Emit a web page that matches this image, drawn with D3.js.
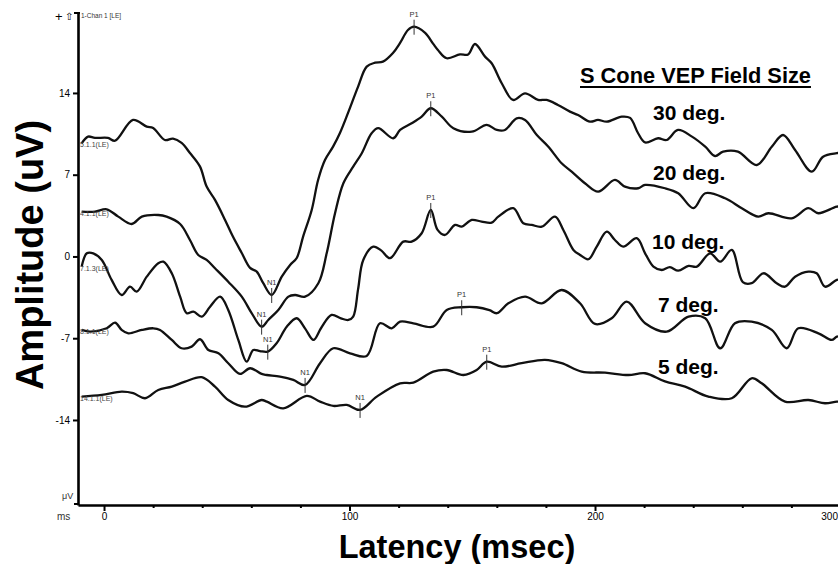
<!DOCTYPE html>
<html>
<head>
<meta charset="utf-8">
<script src="https://cdn.jsdelivr.net/npm/d3@7"></script>
<style>
  body { margin: 0; background: #fff; }
  svg { display: block; font-family: "Liberation Sans", Arial, sans-serif; }
</style>
</head>
<body>
<div id="chart"></div>
<script>
// field sizes, top to bottom
var fieldSizes = ["30 deg.", "20 deg.", "10 deg.", "7 deg.", "5 deg."];
var traceIds = ["5.1.1(LE)", "4.1.1(LE)", "7.1.3(LE)", "8.1.1(LE)", "14.1.1(LE)"];

// [latency ms, amplitude uV]
var trace30 = [[-9.1,9.69],[-6.5,10.26],[-3.7,10.15],[1.6,10.15],[4.5,9.91],[11.8,11.69],[17.4,11.11],[20.0,11.0],
  [24.8,9.97],[28.1,10.09],[31.6,9.72],[35.0,8.86],[39.1,7.69],[41.8,5.98],[45.2,4.84],[49.3,3.13],[52.5,1.70],
  [56.1,0.30],[59.5,-0.98],[62.2,-1.30],[64.8,-2.27],[68.3,-3.30],[72.4,-1.73],[75.8,-0.73],[78.5,-0.13],[81.1,1.70],
  [84.6,3.98],[87.2,6.55],[90.0,8.26],[93.3,9.40],[96.1,10.57],[99.4,12.29],[103.5,14.54],[107.0,16.25],[110.4,16.59],
  [113.6,16.68],[117.7,17.42],[120.6,18.28],[123.8,19.39],[126.3,19.67],[130.8,19.14],[134.1,18.2],[136.0,17.68],
  [139.6,16.97],[145.0,17.3],[148.3,17.3],[151.1,18.19],[155.2,17.11],[157.9,16.54],[162.0,14.83],[166.6,13.40],
  [171.5,13.97],[176.8,13.40],[180.3,13.40],[184.9,12.97],[189.8,12.40],[193.1,12.11],[198.0,11.54],[201.2,11.69],
  [204.8,11.54],[210.9,11.97],[214.3,11.86],[217.5,10.57],[220.4,9.76],[225.7,10.12],[229.2,9.97],[233.8,10.83],
  [239.5,10.26],[244.9,9.40],[248.9,8.60],[252.2,8.97],[258.2,8.97],[265.9,7.83],[272.0,9.40],[276.6,10.40],
  [281.5,9.12],[288.3,7.26],[292.9,8.54],[298.5,8.84],[302,8.9]];

var trace20 = [[-9.1,3.84],[-3.7,3.84],[1.1,4.04],[5.8,3.41],[11.3,2.78],[15.4,3.41],[22.1,3.55],[25.5,3.41],
  [31.0,2.78],[35.0,1.41],[38.4,0.13],[41.8,-0.30],[45.2,-1.01],[50.6,-2.16],[56.1,-3.44],[60.2,-4.87],[64.2,-6.01],
  [66.9,-5.44],[71.0,-4.58],[75.1,-3.44],[77.8,-3.30],[81.9,-3.44],[87.3,-2.29],[90.7,0.27],[94.1,3.70],[97.5,6.27],
  [101.5,7.69],[105.0,8.84],[109.0,10.55],[111.7,10.98],[117.8,10.12],[120.6,10.83],[125.3,11.40],[129.4,11.97],
  [133.1,12.69],[137.6,11.97],[142.3,10.98],[149.8,10.68],[155.9,11.26],[160.0,10.83],[163.3,10.83],[168.1,11.83],
  [171.5,11.69],[176.3,10.40],[181.0,9.40],[186.4,7.98],[190.5,7.26],[195.9,6.27],[201.3,5.55],[208.1,6.55],
  [212.2,5.98],[217.6,5.84],[220.4,6.12],[228.5,5.84],[233.9,5.41],[240.1,4.13],[244.9,5.41],[253.0,4.98],
  [259.8,4.13],[266.5,3.41],[270.6,3.70],[280.1,3.27],[286.9,4.13],[291.0,3.70],[298.5,4.26],[302,4.3]];

var trace10 = [[-9.1,-0.87],[-7.0,0.27],[-4.4,0.27],[-0.9,-0.30],[3.1,-2.01],[7.2,-3.30],[10.6,-2.59],[13.3,-3.01],
  [17.4,-1.73],[22.1,-0.58],[24.2,-0.45],[27.6,-1.44],[31.0,-3.44],[33.7,-4.86],[36.4,-4.73],[39.8,-5.15],[43.2,-4.30],
  [47.3,-3.44],[50.6,-4.58],[54.7,-7.15],[58.1,-9.01],[60.8,-8.01],[63.5,-8.1],[66.7,-8.15],[70.3,-7.43],[74.5,-6.0],
  [78.5,-5.29],[82.0,-6.2],[85.3,-7.15],[88.5,-6.1],[92.7,-5.01],[96.5,-5.3],[99.5,-5.44],[101.5,-5.15],[103.5,-2.8],
  [105.6,-0.30],[109.7,0.84],[113.0,0.5],[116.5,-0.15],[121.9,1.27],[125.3,1.27],[129.4,1.99],[133.1,3.98],
  [135.8,2.3],[138.9,1.84],[143.0,2.70],[145.7,2.55],[149.8,3.13],[153.8,2.98],[157.9,2.89],[160.6,3.41],
  [166.7,4.13],[170.8,2.84],[174.2,2.70],[178.3,2.55],[183.7,3.41],[187.1,2.27],[191.2,0.56],[193.9,0.13],
  [197.3,-0.24],[200.7,0.84],[204.8,2.12],[208.1,1.41],[211.5,0.84],[217.0,1.56],[220.4,0.27],[223.8,-0.87],
  [227.2,-1.16],[230.5,-0.92],[233.9,-1.22],[238.1,-0.81],[241.5,-0.87],[246.9,0.27],[251.0,-0.45],[255.7,0.56],
  [260.2,-2.2],[263.8,-2.29],[268.6,-1.44],[274.0,-2.29],[277.4,-2.59],[281.5,-1.73],[286.9,-1.30],[290.3,-1.44],
  [293.7,-2.59],[298.5,-2.01],[302,-1.9]];

var trace7 = [[-9.1,-6.29],[-5.7,-6.44],[1.1,-6.15],[4.5,-5.67],[7.2,-6.29],[9.9,-6.58],[15.4,-6.29],[20.1,-6.15],
  [22.8,-6.29],[27.6,-7.15],[31.6,-7.86],[35.7,-7.72],[39.1,-7.09],[42.5,-8.01],[46.6,-8.29],[50.6,-9.14],[55.4,-10.06],
  [59.5,-9.57],[64.2,-10.06],[66.3,-10.15],[71.7,-10.29],[77.1,-10.57],[81.9,-11.0],[88.0,-9.14],[93.4,-7.86],
  [100.2,-8.29],[107.0,-8.52],[112.4,-5.72],[117.2,-6.15],[120.6,-5.58],[126.0,-5.72],[134.1,-6.01],[139.6,-4.58],
  [145.7,-4.35],[151.8,-4.35],[157.0,-4.6],[160.0,-4.86],[164.7,-4.01],[171.5,-3.44],[178.3,-4.01],[186.4,-2.87],
  [193.9,-4.01],[200.0,-5.78],[206.8,-5.29],[212.9,-3.87],[220.4,-5.72],[229.2,-6.44],[238.1,-5.15],[244.9,-5.29],
  [251.0,-7.86],[257.0,-5.72],[263.8,-5.58],[272.0,-6.29],[278.1,-7.86],[282.8,-6.15],[291.0,-6.58],[296.4,-7.15],
  [298.5,-6.87],[302,-6.8]];

var trace5 = [[-9.1,-12.0],[-0.9,-11.86],[7.2,-11.58],[11.9,-11.71],[16.7,-12.14],[22.1,-11.43],[27.6,-11.15],
  [33.0,-10.72],[39.8,-10.34],[45.2,-11.15],[50.6,-12.29],[57.4,-12.86],[64.2,-12.29],[66.3,-12.43],[73.0,-13.0],
  [82.6,-11.94],[88.0,-12.43],[93.4,-12.80],[98.9,-12.71],[104.3,-13.14],[111.1,-12.0],[120.6,-10.86],[126.0,-10.80],
  [134.1,-9.86],[139.6,-9.72],[146.4,-10.15],[151.8,-9.72],[155.9,-9.01],[162.0,-9.43],[170.1,-9.14],[179.6,-8.86],
  [186.4,-9.14],[194.6,-9.86],[204.1,-9.95],[213.6,-10.15],[220.4,-10.0],[228.5,-10.7],[236.7,-11.15],[246.2,-12.0],
  [255.7,-12.14],[263.8,-10.43],[267.9,-10.86],[277.4,-12.43],[286.9,-12.29],[293.7,-12.57],[298.5,-12.43],[302,-12.4]];

var traces = [trace30, trace20, trace10, trace7, trace5];

// component latencies (ms) per trace
var n1Latency = [68.3, 64.2, 66.7, 81.9, 104.3];
var p1Latency = [126.3, 133.1, 133.1, 145.7, 155.9];

var yTicks = [14, 7, 0, -7, -14];
var xTicks = [0, 100, 200, 300];

var WIDTH = 838, HEIGHT = 564;

var x = d3.scaleLinear().domain([-10.6, 300]).range([78, 840.5]);
var y = d3.scaleLinear().domain([-21.28, 20.93]).range([505, 12]);

var svg = d3.select("#chart").append("svg")
    .attr("width", WIDTH)
    .attr("height", HEIGHT);

// axes
var yAxis = d3.axisLeft(y).tickValues(yTicks).tickSize(5).tickSizeOuter(0).tickPadding(3)
    .tickFormat(function (d) { return String(d); });
var gy = svg.append("g").attr("transform", "translate(78,0)").call(yAxis);
gy.select(".domain").attr("stroke-width", 2.6).attr("stroke", "#000");
gy.selectAll(".tick line").attr("stroke-width", 2);
gy.selectAll(".tick text").attr("font-size", 10).attr("font-family", "Liberation Sans, Arial, sans-serif");

var xAxis = d3.axisBottom(x).tickValues(d3.range(0, 301, 20))
    .tickFormat(function (d) { return xTicks.indexOf(d) >= 0 ? String(d) : ""; })
    .tickSize(5).tickSizeOuter(0).tickPadding(3);
var gx = svg.append("g").attr("transform", "translate(0,505)").call(xAxis);
gx.select(".domain").attr("stroke-width", 2.6).attr("stroke", "#000");
gx.selectAll(".tick line")
    .attr("stroke-width", 2)
    .attr("y2", function (d) { return xTicks.indexOf(d) >= 0 ? 6 : 3; });
gx.selectAll(".tick text").attr("font-size", 10).attr("font-family", "Liberation Sans, Arial, sans-serif")
    .attr("text-anchor", function (d) { return d === 300 ? "end" : "middle"; })
    .attr("dx", function (d) { return d === 300 ? -3 : 0; });

// corner bits of the recording frame
svg.append("line").attr("x1", 74).attr("x2", 80).attr("y1", 13).attr("y2", 13)
    .attr("stroke", "#000").attr("stroke-width", 2);
svg.append("line").attr("x1", 74).attr("x2", 79).attr("y1", 504).attr("y2", 504)
    .attr("stroke", "#000").attr("stroke-width", 2);

svg.append("text").attr("x", 55).attr("y", 21).attr("font-size", 13).text("+");
svg.append("text").attr("x", 65).attr("y", 20).attr("font-size", 10)
    .attr("font-family", "DejaVu Sans").text("⇧");
svg.append("text").attr("x", 81).attr("y", 18).attr("font-size", 6.5).attr("fill", "#333").text("1-Chan 1 [LE]");
svg.append("text").attr("x", 62).attr("y", 499).attr("font-size", 9).attr("fill", "#333").text("μV");
svg.append("text").attr("x", 57).attr("y", 520).attr("font-size", 10).attr("fill", "#333").text("ms");

// waveforms
var line = d3.line()
    .x(function (d) { return x(d[0]); })
    .y(function (d) { return y(d[1]); })
    .curve(d3.curveCatmullRom.alpha(0.5));

svg.append("g").selectAll("path")
    .data(traces)
    .enter()
    .append("path")
    .attr("d", line)
    .attr("fill", "none")
    .attr("stroke", "#111")
    .attr("stroke-width", 2.3)
    .attr("stroke-linejoin", "round");

svg.append("g").selectAll("text")
    .data(traces)
    .enter()
    .append("text")
    .attr("x", 80)
    .attr("y", function (d) { return y(d[0][1]) + 4; })
    .attr("font-size", 7)
    .attr("fill", "#444")
    .text(function (d, i) { return traceIds[i]; });

// N1 / P1 markers
var valueAt = function (trace, ms) {
    var best = trace[0];
    trace.forEach(function (p) { if (Math.abs(p[0] - ms) < Math.abs(best[0] - ms)) best = p; });
    return best[1];
};

var markers = [];
traces.forEach(function (t, i) {
    markers.push({ name: "N1", ms: n1Latency[i], uv: valueAt(t, n1Latency[i]) });
    markers.push({ name: "P1", ms: p1Latency[i], uv: valueAt(t, p1Latency[i]) });
});

var mk = svg.append("g").selectAll("g")
    .data(markers)
    .enter()
    .append("g")
    .attr("transform", function (d) { return "translate(" + x(d.ms) + "," + y(d.uv) + ")"; });
mk.append("line").attr("y1", -7).attr("y2", 8).attr("stroke", "#333").attr("stroke-width", 1);
mk.append("text").attr("y", -10).attr("text-anchor", "middle")
    .attr("font-size", 7.5).attr("fill", "#333")
    .text(function (d) { return d.name; });

// legend
var title = svg.append("text").attr("x", 580).attr("y", 83)
    .attr("font-size", 21.8).attr("font-weight", "bold")
    .text("S Cone VEP Field Size");
var tw = title.node().getComputedTextLength();
svg.append("line").attr("x1", 580).attr("x2", 580 + tw).attr("y1", 87).attr("y2", 87)
    .attr("stroke", "#000").attr("stroke-width", 2.2);

var labelY = [119.5, 179.5, 249, 311.5, 374];
var labelX = [653, 653, 652, 658, 658];
svg.append("g").selectAll("text")
    .data(fieldSizes)
    .enter()
    .append("text")
    .attr("x", function (d, i) { return labelX[i]; })
    .attr("y", function (d, i) { return labelY[i]; })
    .attr("font-size", 21)
    .attr("font-weight", "bold")
    .text(function (d) { return d; });

// axis titles
svg.append("text")
    .attr("transform", "translate(43,255) rotate(-90)")
    .attr("text-anchor", "middle")
    .attr("font-size", 38)
    .attr("font-weight", "bold")
    .text("Amplitude (uV)");

svg.append("text")
    .attr("x", 457)
    .attr("y", 558)
    .attr("text-anchor", "middle")
    .attr("font-size", 32.5)
    .attr("font-weight", "bold")
    .text("Latency (msec)");
</script>
</body>
</html>
